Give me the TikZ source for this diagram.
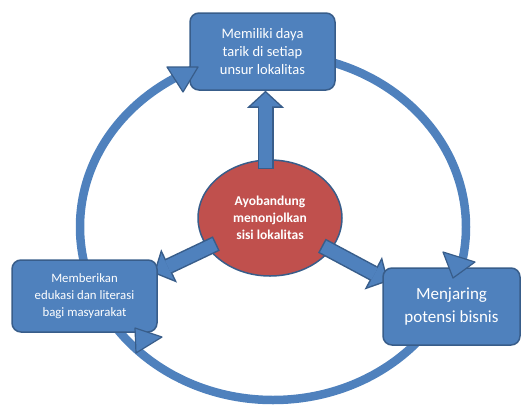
\documentclass[tikz,border=0pt]{standalone}
\usepackage{fontspec}
\setmainfont{Carlito}
\usepackage{tikz}
\usetikzlibrary{arrows.meta,shapes.geometric,backgrounds}
\definecolor{boxblue}{HTML}{4F81BD}
\definecolor{boxedge}{HTML}{385D8A}
\definecolor{corered}{HTML}{C0504D}
\pgfdeclarelayer{bottom}
\pgfsetlayers{bottom,background,main}

\begin{document}
\begin{tikzpicture}[
      x=1pt, y=-1pt,
      box/.style={draw=boxedge, fill=boxblue, line width=1.5pt, rounded corners=9pt, text=white, align=center, inner sep=2pt},
      core/.style={ellipse, draw=boxedge, fill=corered, line width=1.5pt, text=white, align=center, inner sep=0pt,
                   minimum width=144pt, minimum height=116pt, font=\bfseries\fontsize{13.5pt}{16.7pt}\selectfont},
      ring/.style={draw=boxblue, line width=8.5pt},
      ringtip/.style={draw=boxedge, fill=boxblue, line width=1.2pt, line join=round},
      arrout/.style={boxedge, line width=16pt, -{Triangle[length=17pt,width=37pt,line width=0pt]}, shorten <=-10pt},
      arrin/.style={boxblue, line width=13pt, -{Triangle[length=13.5pt,width=29.4pt,line width=0pt]}, shorten <=-8.5pt, shorten >=2pt},
    ]
    \useasboundingbox (0,0) rectangle (522,405);
    \node[box, minimum width=145pt, minimum height=77pt, font=\fontsize{14.5pt}{18pt}\selectfont] (daya) at (262.5,51.5) {Memiliki daya\\tarik di setiap\\unsur lokalitas};
    \node[box, minimum width=145pt, minimum height=72pt, font=\fontsize{12.8pt}{17pt}\selectfont] (edukasi) at (84.5,296) {Memberikan\\edukasi dan literasi\\bagi masyarakat};
    \node[box, minimum width=137pt, minimum height=77pt, font=\fontsize{17pt}{23pt}\selectfont] (bisnis) at (451.5,306.5) {Menjaring\\potensi bisnis};
    \coordinate (kiri) at ([shift={(-4pt,-14pt)}]edukasi.north east);
    \coordinate (kanan) at ([shift={(6pt,-14pt)}]bisnis.north west);
    % cycle ring and centre
    \begin{pgfonlayer}{bottom}
      \coordinate (hub) at (273,227);
      \draw[ring] (hub) ellipse [x radius=193pt, y radius=173pt];
      \node[core] (ayo) at (270,218) {Ayobandung\\menonjolkan\\sisi lokalitas};
    \end{pgfonlayer}
    % block arrows out of the centre
    \begin{pgfonlayer}{background}
      \draw[arrout] ([xshift=3pt]daya.south |- ayo.north) -- ([xshift=3pt]daya.south);
      \draw[arrin] ([xshift=3pt]daya.south |- ayo.north) -- ([xshift=3pt]daya.south);
      \draw[arrout] (ayo) -- (kiri);
      \draw[arrin] (ayo) -- (kiri);
      \draw[arrout] (ayo) -- (kanan);
      \draw[arrin] (ayo) -- (kanan);
    \end{pgfonlayer}
    % heads on the ring
    \draw[ringtip] (167,67) -- (198,67) -- (183,92) -- cycle;
    \draw[ringtip] (443,252) -- (475,262) -- (453,278) -- cycle;
    \draw[ringtip] (135,328) -- (162,337) -- (136,353) -- cycle;
  \end{tikzpicture}
\end{document}
